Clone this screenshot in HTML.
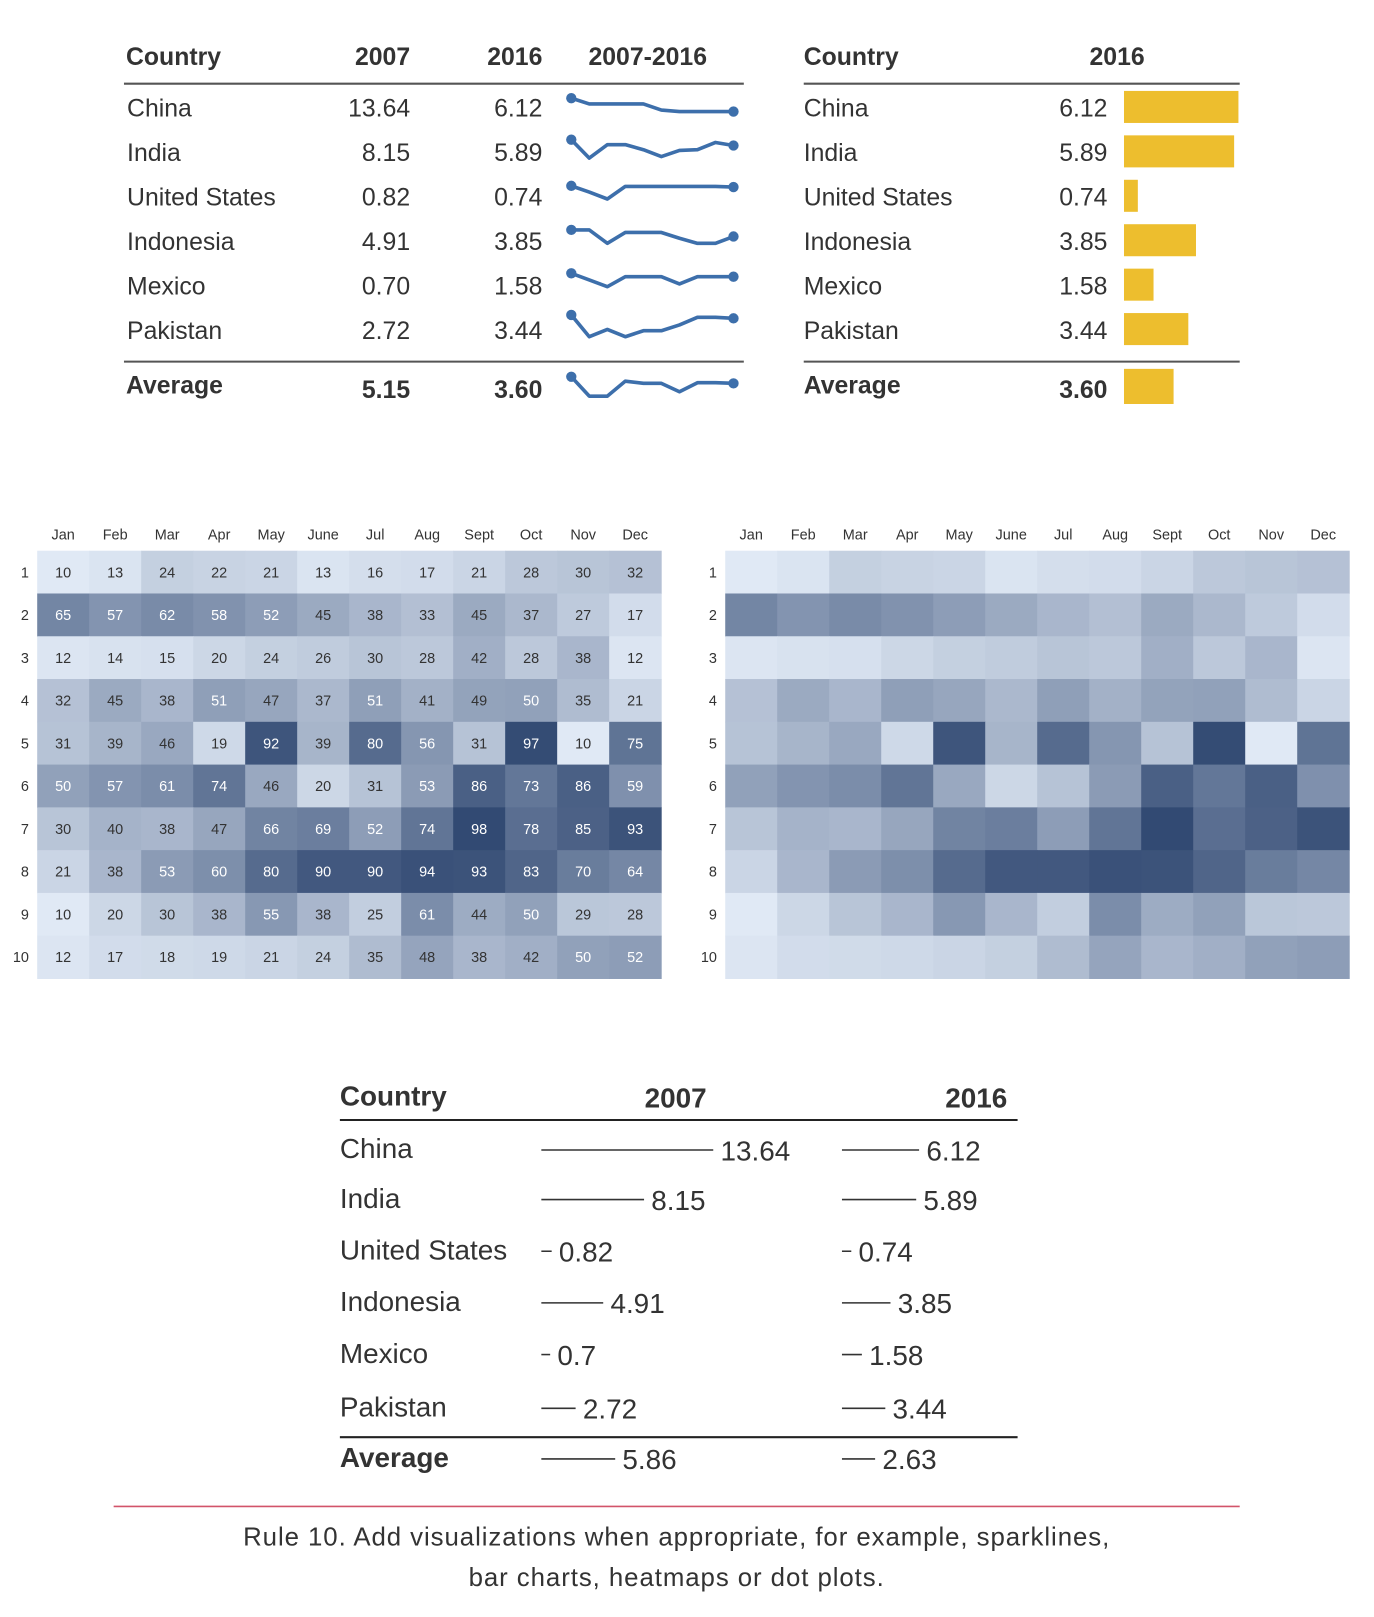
<!DOCTYPE html>
<html><head><meta charset="utf-8"><style>
html,body{margin:0;padding:0;background:#fff;}
svg{display:block;}
text{font-family:"Liberation Sans",sans-serif;}
</style></head><body>
<svg id="s" width="1374" height="1617" viewBox="0 0 1330 1565" preserveAspectRatio="none" xmlns="http://www.w3.org/2000/svg"></svg>
<script>
const countries = ["China","India","United States","Indonesia","Mexico","Pakistan"];
const v2007 = [13.64,8.15,0.82,4.91,0.70,2.72];
const v2016 = [6.12,5.89,0.74,3.85,1.58,3.44];
const avg2007 = 5.15, avg2016 = 3.60;
const sparkChina = [6.7,3.8,3.8,3.8,3.8,0.8,0,0,0,0];
const sparkIndia = [9.2,0,6.7,6.7,4.2,0.8,3.8,4.2,7.8,6.3];
const sparkUS = [7.3,4.2,0.7,7,7,7,7,7,7,6.7];
const sparkIndonesia = [7.5,7.5,0.8,6.2,6.2,6.2,3.3,0.8,0.8,4.2];
const sparkMexico = [8,4.7,1.3,6.3,6.3,6.3,2.7,6.3,6.3,6.3];
const sparkPakistan = [11.2,0.3,4,0.3,3.3,3.3,6.2,10,10,9.5];
const sparkAverage = [10,0.3,0.3,7.8,6.7,6.7,2.5,7,7,6.7];
const months = ["Jan","Feb","Mar","Apr","May","June","Jul","Aug","Sept","Oct","Nov","Dec"];
const heat = [
[10,13,24,22,21,13,16,17,21,28,30,32],
[65,57,62,58,52,45,38,33,45,37,27,17],
[12,14,15,20,24,26,30,28,42,28,38,12],
[32,45,38,51,47,37,51,41,49,50,35,21],
[31,39,46,19,92,39,80,56,31,97,10,75],
[50,57,61,74,46,20,31,53,86,73,86,59],
[30,40,38,47,66,69,52,74,98,78,85,93],
[21,38,53,60,80,90,90,94,93,83,70,64],
[10,20,30,38,55,38,25,61,44,50,29,28],
[12,17,18,19,21,24,35,48,38,42,50,52]];
const dot2007 = [13.64,8.15,0.82,4.91,0.7,2.72];
const dot2016 = [6.12,5.89,0.74,3.85,1.58,3.44];
const dotAvg2007 = 5.86, dotAvg2016 = 2.63;

const S=document.getElementById('s');const NS='http://www.w3.org/2000/svg';
function mk(tag,attrs,txt){const e=document.createElementNS(NS,tag);for(const k in attrs)e.setAttribute(k,attrs[k]);if(txt!==undefined)e.textContent=txt;S.appendChild(e);return e;}
function T(x,y,s,size,anchor,weight,name,fill){const e=mk('text',{x:x,y:y,'font-size':size,'text-anchor':anchor||'start','font-weight':weight||'normal',fill:fill||'#333'},s);

return e;}
function L(x1,y1,x2,y2,w,c,name){const e=mk('line',{x1:x1,y1:y1,x2:x2,y2:y2,stroke:c,'stroke-width':w});

return e;}

// Table 1
const rowY=[113,156,199,242,285,328];
T(122,63,"Country",24,'start','bold','header-country');
T(397,63,"2007",24,'end','bold','header-2007');
T(525,63,"2016",24,'end','bold','header-2016');
T(627,63,"2007-2016",24,'middle','bold','header-trend');
L(120,81,720,81,2,'#555','table1-top-rule');
L(120,350,720,350,2,'#555','table1-bottom-rule');
const sparks=[sparkChina,sparkIndia,sparkUS,sparkIndonesia,sparkMexico,sparkPakistan];
const sparkBase=[108,153,194,237,280,326.5];
function spark(vals,base,name){
  const xs=i=>553+i*(710-553)/(vals.length-1);const ys=v=>base-v*1.936;
  const p=vals.map((v,i)=>xs(i).toFixed(1)+','+ys(v).toFixed(1)).join(' ');
  const pl=mk('polyline',{points:p,fill:'none',stroke:'#3d6fab','stroke-width':3.5,'stroke-linejoin':'round'});
  
  
  const n=vals.length-1;
  [[0,vals[0]],[n,vals[n]]].forEach(([i,v])=>{const c=mk('circle',{cx:xs(i),cy:ys(v),r:5,fill:'#3d6fab'});
  
  });
}
countries.forEach((c,i)=>{
  T(123,rowY[i],c,24,'start','normal','country-label');
  T(397,rowY[i],v2007[i].toFixed(2),24,'end','normal','value-2007');
  T(525,rowY[i],v2016[i].toFixed(2),24,'end','normal','value-2016');
  spark(sparks[i],sparkBase[i],'sparkline');
});
T(122,381,"Average",24,'start','bold','average-label');
T(397,385,avg2007.toFixed(2),24,'end','bold','average-2007');
T(525,385,avg2016.toFixed(2),24,'end','bold','average-2016');
spark(sparkAverage,384,'sparkline-average');

// Table 2
T(778,63,"Country",24,'start','bold','header-country-2');
T(1108,63,"2016",24,'end','bold','header-2016-2');
L(778,81,1200,81,2,'#555','table2-top-rule');
L(778,350,1200,350,2,'#555','table2-bottom-rule');
const bx=v=>v*18.1;
countries.forEach((c,i)=>{
  T(778,rowY[i],c,24,'start','normal','country-label-2');
  T(1072,rowY[i],v2016[i].toFixed(2),24,'end','normal','value-2016-2');
  const r=mk('rect',{x:1088,y:rowY[i]-25,width:bx(v2016[i]),height:31,fill:'#edbe2e'});
  
  
});
T(778,381,"Average",24,'start','bold','average-label-2');
T(1072,385,avg2016.toFixed(2),24,'end','bold','average-2016-2');
const ra=mk('rect',{x:1088,y:357,width:48,height:34,fill:'#edbe2e'});



// Heatmaps
function col(v){const t=Math.max(0,Math.min(1,(v-10)/88));
  const a=[224,233,245],b=[50,74,115];
  return 'rgb('+a.map((x,k)=>Math.round(x+(b[k]-x)*t)).join(',')+')';}
function heatmap(x0,labels,pref){
  const cw=(604)/12,ch=414/10,y0=533;
  months.forEach((m,j)=>T(x0+cw*(j+0.5),522,m,14,'middle','normal',pref+'-month-label'));
  heat.forEach((row,i)=>{
    T(x0-8,y0+ch*(i+0.5)+5,String(i+1),14,'end','normal',pref+'-row-label');
    row.forEach((v,j)=>{
      const r=mk('rect',{x:x0+cw*j,y:y0+ch*i,width:cw+0.5,height:ch+0.5,fill:col(v)});
      
      
      if(labels)T(x0+cw*(j+0.5),y0+ch*(i+0.5)+5,String(v),14,'middle','normal',pref+'-cell-value',v>=50?'#fff':'#333');
    });
  });
}
heatmap(36,true,'heatmap-labeled');
heatmap(702,false,'heatmap-plain');

// Bottom dot/line table
const by=[1121,1169,1219,1269,1319,1371];
const lx=v=>v*12.2;
T(329,1070,"Country",27,'start','bold','header-country-3');
T(654,1072,"2007",27,'middle','bold','header-2007-3');
T(975,1072,"2016",27,'end','bold','header-2016-3');
L(329,1084,985,1084,2,'#222','table3-top-rule');
L(329,1391,985,1391,2,'#222','table3-bottom-rule');
function dotrow(y,label,a,b,bold){
  T(329,y,label,27,'start',bold?'bold':'normal','country-label-3');
  L(524,y-8,524+lx(a),y-8,1.5,'#333','line-2007');
  T(524+lx(a)+7,y+2,String(a),27,'start','normal','value-2007-3');
  L(815,y-8,815+lx(b),y-8,1.5,'#333','line-2016');
  T(815+lx(b)+7,y+2,String(b),27,'start','normal','value-2016-3');
}
countries.forEach((c,i)=>dotrow(by[i],c,dot2007[i],dot2016[i],false));
dotrow(1420,"Average",dotAvg2007,dotAvg2016,true);

// Caption
L(110,1458,1200,1458,1.5,'#d2546a','caption-rule');
T(655,1496,"Rule 10. Add visualizations when appropriate, for example, sparklines,",25,'middle','normal','caption-line-1').setAttribute('letter-spacing','0.9');
T(655,1535,"bar charts, heatmaps or dot plots.",25,'middle','normal','caption-line-2').setAttribute('letter-spacing','0.9');
</script>
</body></html>
